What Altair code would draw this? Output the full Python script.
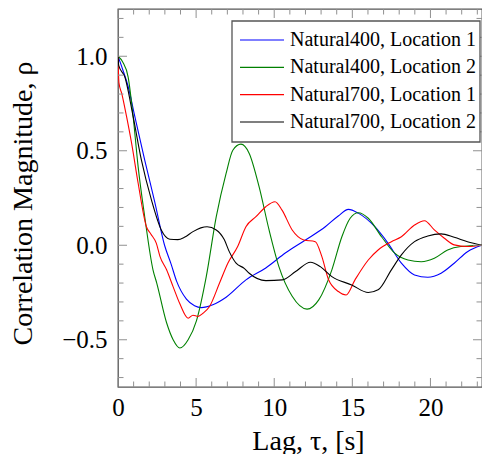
import altair as alt
import pandas as pd

# ---------------- data ----------------
names = ["Natural400, Location 1", "Natural400, Location 2",
         "Natural700, Location 1", "Natural700, Location 2"]
colors = ["#0000ff", "#008000", "#ff0000", "#000000"]

blue_t = [0, 0.3, 0.65, 1.08, 1.71, 2.35, 2.98, 3.4, 3.75, 4.38, 4.9, 5.33, 6.07, 6.92,
          8.19, 9.46, 10.73, 12.0, 13.27, 14.1, 14.75, 15.38, 16.44, 17.29, 18.14, 18.98,
          19.83, 20.68, 21.52, 22.37, 23.3]
blue_r = [1.0, 0.93, 0.84, 0.68, 0.45, 0.23, 0.0, -0.1, -0.19, -0.285, -0.32, -0.33, -0.315,
          -0.275, -0.183, -0.12, -0.04, 0.028, 0.098, 0.155, 0.19, 0.17, 0.098, 0.01, -0.095,
          -0.157, -0.169, -0.148, -0.095, -0.034, 0.0]

green_t = [0, 0.3, 0.65, 0.97, 1.29, 1.71, 2.24, 2.48, 3.11, 3.53, 3.96, 4.49, 5.02, 5.65,
           6.29, 6.92, 7.35, 7.87, 8.4, 9.03, 9.67, 10.3, 11.15, 12.1, 12.85, 13.69, 14.33,
           14.86, 15.38, 16.02, 16.87, 17.71, 18.56, 19.41, 20.25, 21.1, 21.95, 23.3]
green_r = [1.0, 0.97, 0.89, 0.68, 0.415, 0.151, -0.13, -0.2, -0.41, -0.5, -0.544, -0.5, -0.4,
           -0.166, 0.151, 0.38, 0.503, 0.535, 0.486, 0.31, 0.081, -0.113, -0.27, -0.338,
           -0.289, -0.13, 0.045, 0.143, 0.172, 0.143, 0.045, -0.042, -0.078, -0.087, -0.069,
           -0.025, -0.007, 0.0]

red_t = [0, 0.06, 0.25, 0.55, 0.87, 1.29, 1.82, 2.1, 2.45, 2.69, 3.11, 3.53, 3.96, 4.49, 4.8,
         5.12, 5.44, 5.86, 6.5, 7.03, 7.66, 8.19, 8.83, 9.46, 10.05, 10.5, 11.15, 11.89,
         12.63, 13.05, 13.48, 14.11, 14.6, 15.17, 16.02, 16.65, 17.5, 18.14, 18.98, 19.62,
         20.25, 20.89, 21.52, 22.37, 23.3]
red_r = [1.0, 0.86, 0.8, 0.68, 0.54, 0.328, 0.098, 0.06, 0.011, -0.06, -0.13, -0.22, -0.31,
         -0.386, -0.37, -0.377, -0.36, -0.324, -0.2, -0.095, -0.007, 0.098, 0.151, 0.204,
         0.23, 0.186, 0.081, 0.028, 0.019, -0.06, -0.183, -0.245, -0.263, -0.183, -0.078,
         -0.025, 0.019, 0.045, 0.107, 0.13, 0.081, 0.037, 0.002, -0.007, 0.0]

black_t = [0, 0.05, 0.44, 0.97, 1.5, 2.14, 2.77, 3.32, 3.83, 4.25, 4.8, 5.3, 5.7, 6.29, 6.8,
           7.13, 7.56, 8.08, 8.4, 9.46, 10.52, 11.37, 12.32, 12.95, 13.69, 14.96, 16.02,
           16.65, 17.5, 18.14, 18.98, 19.83, 20.68, 21.52, 22.37, 23.3]
black_r = [1.0, 0.95, 0.89, 0.68, 0.45, 0.24, 0.081, 0.032, 0.03, 0.042, 0.072, 0.092, 0.098,
           0.081, 0.03, -0.035, -0.095, -0.122, -0.148, -0.187, -0.183, -0.139, -0.09,
           -0.113, -0.166, -0.21, -0.25, -0.236, -0.13, -0.051, 0.019, 0.049, 0.06, 0.042,
           0.019, 0.0]

x_major = [0, 5, 10, 15, 20]
x_minor = [1, 2, 3, 4, 6, 7, 8, 9, 11, 12, 13, 14, 16, 17, 18, 19, 21, 22, 23]
y_major = [-0.5, 0.0, 0.5, 1.0]
y_minor = [-0.7, -0.6, -0.4, -0.3, -0.2, -0.1, 0.1, 0.2, 0.3, 0.4, 0.6, 0.7, 0.8, 0.9,
           1.1, 1.2]

series = [(names[0], blue_t, blue_r), (names[1], green_t, green_r),
          (names[2], red_t, red_r), (names[3], black_t, black_r)]
rows = []
for nm, ts, rs in series:
    for t, r in zip(ts, rs):
        rows.append({"series": nm, "t": t, "rho": r})
df = pd.DataFrame(rows)

# ---------------- chart ----------------
W, H = 364, 378
FONT = "Liberation Serif"
FRAME = "#555555"
TICK = "#909090"

xscale = alt.Scale(domain=[0, 23.3], nice=False, zero=False)
yscale = alt.Scale(domain=[-0.75, 1.25], nice=False, zero=False)
cscale = alt.Scale(domain=names, range=colors)

x_axis = alt.Axis(
    values=x_major, format="d", ticks=False, domain=False, grid=False, labelFlush=False,
    labelFont=FONT, labelFontSize=25, labelPadding=8, labelColor="black",
    title="Lag, τ, [s]", titleFont=FONT, titleFontSize=28, titleFontWeight="normal",
    titleColor="black", titleX=190, titleY=62, titleBaseline="alphabetic",
    titleAlign="center")
y_axis = alt.Axis(
    values=y_major, format=".1f", ticks=False, domain=False, grid=False, labelFlush=False,
    labelFont=FONT, labelFontSize=25, labelPadding=11, labelColor="black",
    title="Correlation Magnitude, ρ", titleFont=FONT, titleFontSize=28,
    titleFontWeight="normal", titleColor="black", titleX=-95, titleY=194,
    titleAngle=270, titleBaseline="middle", titleAlign="center")

lines = alt.Chart(df).mark_line(strokeWidth=1.1, interpolate="monotone", clip=True).encode(
    x=alt.X("t:Q", scale=xscale, axis=x_axis),
    y=alt.Y("rho:Q", scale=yscale, axis=y_axis),
    color=alt.Color("series:N", scale=cscale, legend=None),
)


def tick_layers(values, orient, length):
    d = alt.Chart(pd.DataFrame({"v": values})).mark_rule(color=TICK, strokeWidth=1)
    if orient == "x":
        xe = alt.X("v:Q", scale=xscale, axis=x_axis)
        return [d.encode(x=xe, y=alt.value(H), y2=alt.value(H - length)),
                d.encode(x=xe, y=alt.value(0), y2=alt.value(length))]
    ye = alt.Y("v:Q", scale=yscale, axis=y_axis)
    return [d.encode(y=ye, x=alt.value(0), x2=alt.value(length)),
            d.encode(y=ye, x=alt.value(W), x2=alt.value(W - length))]


ticks = (tick_layers(x_major, "x", 9) + tick_layers(x_minor, "x", 5.5)
         + tick_layers(y_major, "y", 9) + tick_layers(y_minor, "y", 5.5))

plot = alt.layer(lines, *ticks)

# legend
leg_df = pd.DataFrame({"series": names})
leg_y = alt.Y("series:N", scale=alt.Scale(type="point", domain=names, range=[31, 113],
                                          padding=0), axis=None)
box = alt.Chart(pd.DataFrame({"k": [0]})).mark_rect(
    fill="white", stroke=FRAME, strokeWidth=1.3).encode(
    x=alt.value(114), x2=alt.value(362), y=alt.value(12), y2=alt.value(133))
leg_lines = alt.Chart(leg_df).mark_rule(strokeWidth=1.1).encode(
    x=alt.value(122), x2=alt.value(166), y=leg_y,
    color=alt.Color("series:N", scale=cscale, legend=None))
leg_text = alt.Chart(leg_df).mark_text(
    align="left", baseline="middle", font=FONT, fontSize=20, color="black").encode(
    x=alt.value(172), y=leg_y, text="series:N")
legend = alt.layer(box, leg_lines, leg_text)

chart = alt.layer(plot, legend).resolve_scale(y="independent").properties(
    width=W, height=H,
    autosize=alt.AutoSizeParams(type="none"),
    padding={"left": 110, "top": 1, "right": 0, "bottom": 67},
).configure_view(stroke=FRAME, strokeWidth=1.3)

chart.save("out.html", embed_options={"renderer": "svg", "actions": False})
